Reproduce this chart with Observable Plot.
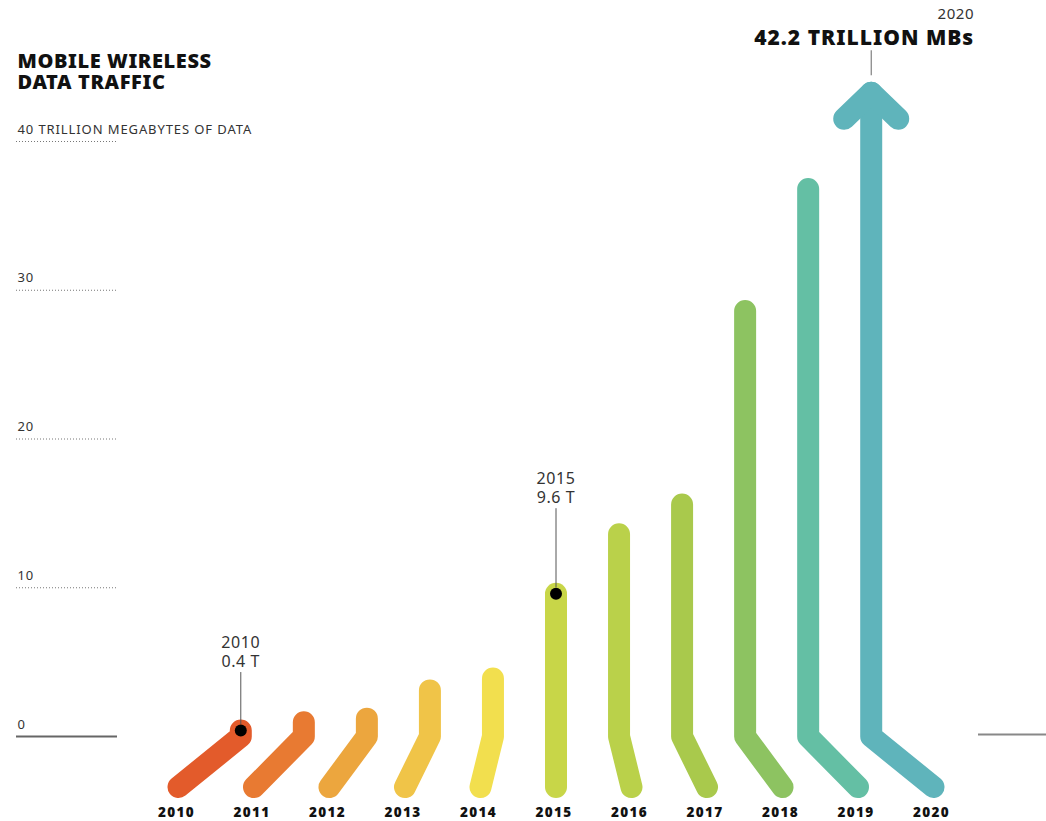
<!DOCTYPE html>
<html><head><meta charset="utf-8">
<script src="https://cdn.jsdelivr.net/npm/d3@7"></script>
<script src="https://cdn.jsdelivr.net/npm/@observablehq/plot@0.6"></script>
<style>
html,body{margin:0;padding:0;background:#fff;}
#chart svg{display:block;}
</style></head><body><div id="chart"></div>
<script>
// ---- data ----
const years = [2010, 2011, 2012, 2013, 2014, 2015, 2016, 2017, 2018, 2019, 2020];
const traffic = [0.4, 0.95, 1.2, 3.1, 3.9, 9.6, 13.6, 15.6, 28.6, 36.8, 42.2]; // trillion MB
const barColors = ["#e35b2b", "#e87a32", "#eca63e", "#f0c448", "#f2df4e", "#c8d648",
                   "#bad14a", "#a9c94c", "#8dc361", "#64bfa4", "#5fb4bb"];
const gridValues = [0, 10, 20, 30, 40];
const gridLabels = ["0", "10", "20", "30", "40 TRILLION MEGABYTES OF DATA"];
const titleLines = ["MOBILE WIRELESS", "DATA TRAFFIC"];
const calloutYears = [2010, 2015];
const headlineYear = 2020;
const headlineText = "42.2 TRILLION MBs";

// ---- geometry helpers ----
const W = 1046, H = 821;
const PX = (736 - 141) / 40;        // pixels per trillion
const XPX = (933 - 178) / 10;       // pixels per year
const BASE = -3.4;                  // where each stem starts (below zero)
const pivot = 2015, LEAN = 0.165;
const bendX = yr => yr + (pivot - yr) * LEAN;
const calloutLift = {2010: 64, 2015: 91};

const rows = years.map((year, i) => ({year, value: traffic[i], color: barColors[i]}));
const arrowTip = d => d.value + 16 / PX;
const stems = rows.flatMap(d => {
  const top = d.year === headlineYear ? arrowTip(d) : d.value;
  return [
    {year: d.year, color: d.color, x: d.year, y: BASE},
    {year: d.year, color: d.color, x: bendX(d.year), y: 0},
    {year: d.year, color: d.color, x: bendX(d.year), y: top}
  ];
});
const head = rows.find(d => d.year === headlineYear);
const chevron = [
  {x: bendX(head.year) - 27 / XPX, y: arrowTip(head) - 26 / PX},
  {x: bendX(head.year), y: arrowTip(head)},
  {x: bendX(head.year) + 27 / XPX, y: arrowTip(head) - 26 / PX}
];
const callouts = rows.filter(d => calloutYears.includes(d.year));
const grid = gridValues.map((v, i) => ({v, label: gridLabels[i]}));
const titleRows = titleLines.map((t, i) => ({t, i}));

// letter spacing per text group (keyed by font size)
const spacing = {"13": "0.9px", "20": "0.6px", "13.5": "1.3px", "16": "0.6px", "21": "1px", "15": "0.6px"};

const chart = Plot.plot({
  width: W, height: H,
  marginLeft: 0, marginRight: 0, marginTop: 0, marginBottom: 0,
  x: {type: "linear", domain: [2010, 2020], range: [178, 933], axis: null},
  y: {type: "linear", domain: [0, 40], range: [736, 141], axis: null},
  color: {type: "identity"},
  style: {fontFamily: "'Noto Sans', sans-serif", background: "#fff", overflow: "visible"},
  marks: [
    Plot.ruleY(grid.filter(d => d.v > 0), {y: "v", insetLeft: 16, insetRight: W - 117,
      stroke: "#777", strokeWidth: 1, strokeDasharray: "1,2"}),
    Plot.ruleY([0], {insetLeft: 16, insetRight: W - 117, stroke: "#666", strokeWidth: 2}),
    Plot.ruleY([0], {insetLeft: 978, dy: -2, stroke: "#888", strokeWidth: 2}),
    Plot.text(grid, {y: "v", text: "label", frameAnchor: "left", dx: 17, dy: -8,
      lineAnchor: "bottom", textAnchor: "start", fontSize: 13, fill: "#333"}),
    Plot.text(titleRows.filter(d => d.i === 0), {text: "t", frameAnchor: "top-left", dx: 17, dy: 67,
      textAnchor: "start", lineAnchor: "bottom", fontSize: 20, fontWeight: 900, fill: "#111"}),
    Plot.text(titleRows.filter(d => d.i === 1), {text: "t", frameAnchor: "top-left", dx: 17, dy: 88,
      textAnchor: "start", lineAnchor: "bottom", fontSize: 20, fontWeight: 900, fill: "#111"}),
    Plot.line(stems, {x: "x", y: "y", z: "year", stroke: "color", strokeWidth: 22,
      strokeLinecap: "round", strokeLinejoin: "round", curve: "linear"}),
    Plot.line(chevron, {x: "x", y: "y", stroke: head.color, strokeWidth: 22,
      strokeLinecap: "round", strokeLinejoin: "round"}),
    Plot.text(rows, {x: "year", y: BASE, text: d => String(d.year), dy: 30, dx: -2,
      lineAnchor: "bottom", fontSize: 13.5, fontWeight: 900, fill: "#111"}),
    Plot.ruleX(callouts, {x: d => bendX(d.year), y1: d => d.value + 6 / PX,
      y2: d => d.value + (calloutLift[d.year] - 6) / PX, stroke: "#555", strokeWidth: 1}),
    Plot.dot(callouts, {x: d => bendX(d.year), y: "value", r: 6, fill: "#000", stroke: "none"}),
    Plot.text(callouts, {x: d => bendX(d.year), y: d => d.value + calloutLift[d.year] / PX,
      text: d => `${d.value} T`, lineAnchor: "bottom", fontSize: 16, fill: "#333"}),
    Plot.text(callouts, {x: d => bendX(d.year), y: d => d.value + (calloutLift[d.year] + 19) / PX,
      text: d => String(d.year), lineAnchor: "bottom", fontSize: 16, fill: "#333"}),
    Plot.ruleX([head], {x: d => bendX(d.year), y1: d => arrowTip(d) + 17 / PX,
      y2: d => arrowTip(d) + 42 / PX, stroke: "#666", strokeWidth: 1}),
    Plot.text([head], {x: d => bendX(d.year), y: d => arrowTip(d) + 48 / PX, text: () => headlineText,
      dx: 103, textAnchor: "end", lineAnchor: "bottom", fontSize: 21, fontWeight: 900, fill: "#111"}),
    Plot.text([head], {x: d => bendX(d.year), y: d => arrowTip(d) + 74 / PX, text: d => String(d.year),
      dx: 103, textAnchor: "end", lineAnchor: "bottom", fontSize: 15, fill: "#333"})
  ]
});
document.getElementById("chart").append(chart);
chart.querySelectorAll("g[font-size]").forEach(g => {
  const fs = String(parseFloat(g.getAttribute("font-size")));
  if (spacing[fs]) g.setAttribute("letter-spacing", spacing[fs]);
});
</script>
</body></html>
